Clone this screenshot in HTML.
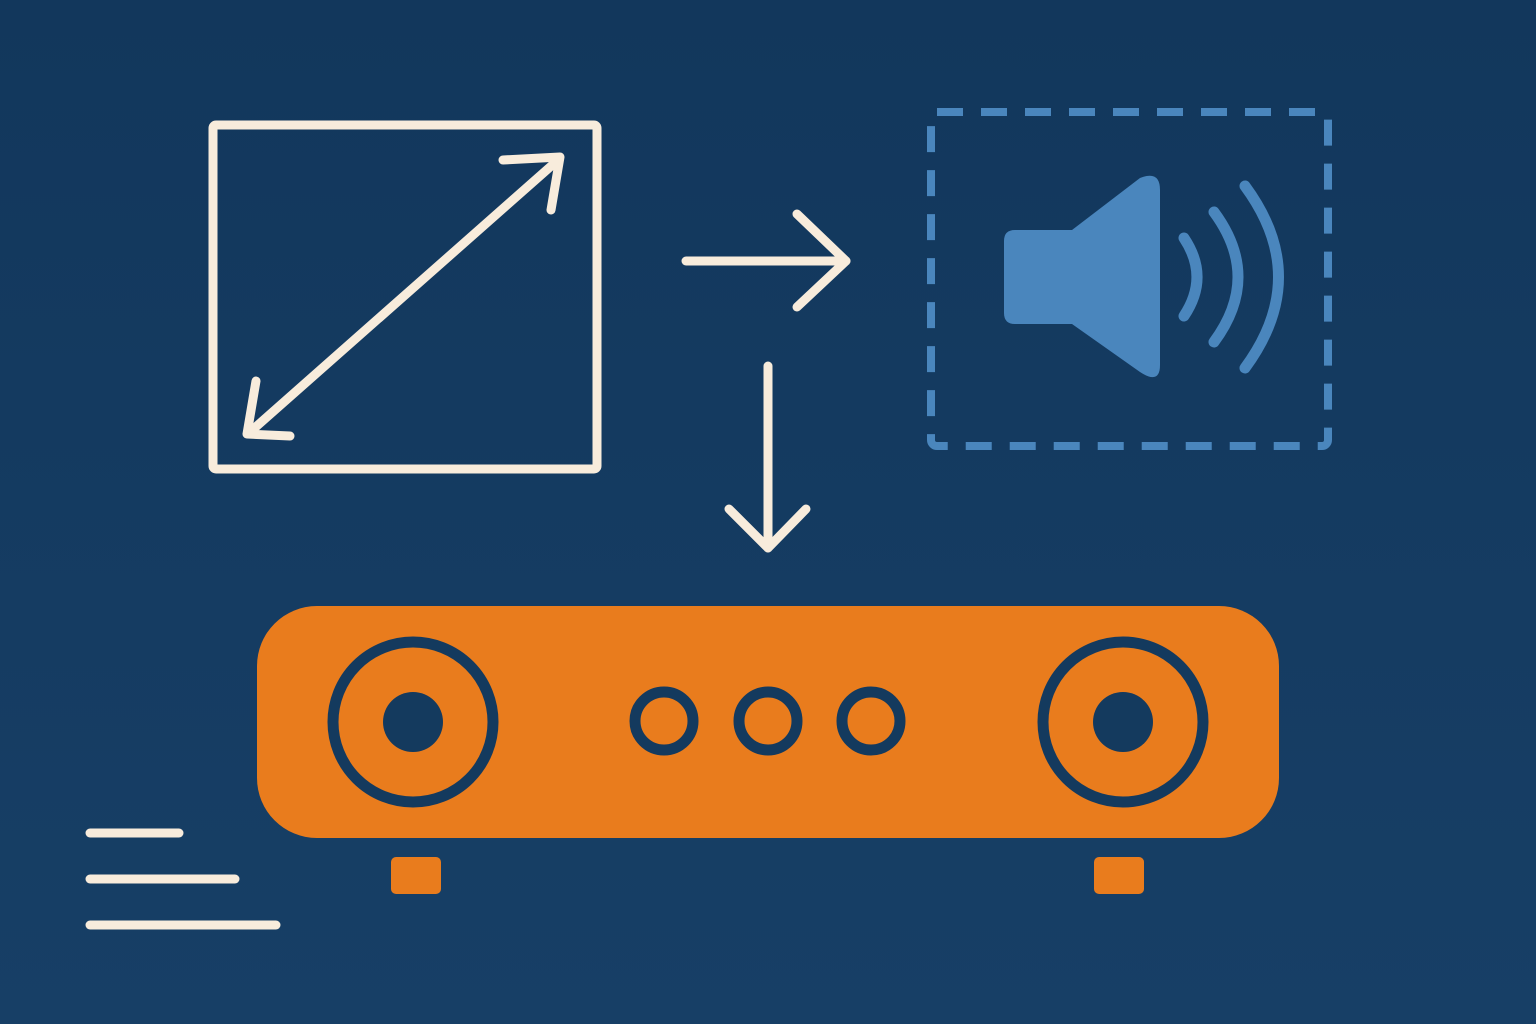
<!DOCTYPE html>
<html><head><meta charset="utf-8"><style>html,body{margin:0;padding:0;background:#143a5e;}svg{display:block}</style></head>
<body>
<svg width="1536" height="1024" viewBox="0 0 1536 1024" xmlns="http://www.w3.org/2000/svg">
<defs><linearGradient id="bg" x1="0" y1="0" x2="0" y2="1"><stop offset="0" stop-color="#12375c"/><stop offset="1" stop-color="#173f66"/></linearGradient></defs>
<rect width="1536" height="1024" fill="url(#bg)"/>
<g stroke="#f8ecdc" stroke-width="9" fill="none" stroke-linecap="round" stroke-linejoin="round">
<rect x="213" y="125" width="384" height="344" rx="3"/>
<line x1="250" y1="432" x2="558" y2="160"/>
<polyline points="503,160 560,157 551,210"/>
<polyline points="256,381 247,434 290,436"/>
<line x1="686" y1="261" x2="846" y2="261"/>
<polyline points="797,214 846,261 797,307"/>
<line x1="768" y1="366" x2="768" y2="548"/>
<polyline points="729,509 768,548 806,509"/>
<line x1="90" y1="833" x2="179" y2="833"/>
<line x1="90" y1="879" x2="235" y2="879"/>
<line x1="90" y1="925" x2="276" y2="925"/>
</g>
<rect x="931" y="112" width="397" height="334" rx="6" fill="none" stroke="#4a86bd" stroke-width="8" stroke-dasharray="26 18"/>
<path d="M1015 230 L1072 230 L1140 178 Q1160 170 1160 190 L1160 365 Q1160 385 1140 372 L1072 324 L1015 324 Q1004 324 1004 313 L1004 241 Q1004 230 1015 230 Z" fill="#4a86bd"/>
<g stroke="#4a86bd" stroke-width="11" fill="none" stroke-linecap="round">
<path d="M1184 238 Q1210 277 1184 316"/>
<path d="M1214 212 Q1262 277 1214 342"/>
<path d="M1245 186 Q1312 277 1245 368"/>
</g>
<rect x="257" y="606" width="1022" height="232" rx="60" fill="#e97c1d"/>
<rect x="391" y="857" width="50" height="37" rx="5" fill="#e97c1d"/>
<rect x="1094" y="857" width="50" height="37" rx="5" fill="#e97c1d"/>
<g stroke="#143a5e" stroke-width="11" fill="none">
<circle cx="413" cy="722" r="80"/>
<circle cx="1123" cy="722" r="80"/>
<circle cx="664" cy="721" r="29"/>
<circle cx="768" cy="721" r="29"/>
<circle cx="871" cy="721" r="29"/>
</g>
<circle cx="413" cy="722" r="30" fill="#143a5e"/>
<circle cx="1123" cy="722" r="30" fill="#143a5e"/>
</svg>
</body></html>
